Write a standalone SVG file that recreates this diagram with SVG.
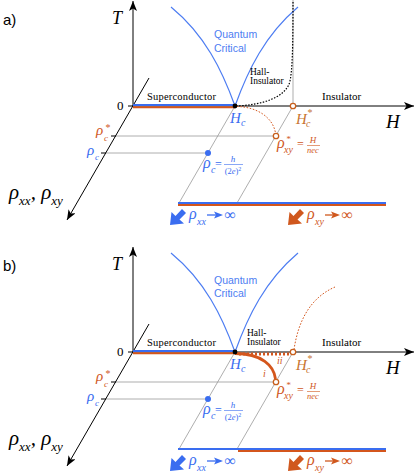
<svg xmlns="http://www.w3.org/2000/svg" width="415" height="475" viewBox="0 0 415 475">
<defs>
<marker id="ah" markerUnits="userSpaceOnUse" markerWidth="11" markerHeight="8" refX="10" refY="4" orient="auto"><path d="M0,0 L10,4 L0,8 L2.5,4 Z" fill="#000"/></marker>
<path id="heavy" d="M0,0 L1.5,-13 L5.5,-9 L12,-16 L16,-12 L9.5,-5.5 L14,-1.5 Z"/>
</defs>
<style>
.ax{stroke:#000;stroke-width:1;fill:none}
.tk{stroke:#000;stroke-width:1;fill:none}
.gr{stroke:#999;stroke-width:0.8;fill:none}
.lg{stroke:#d6d6d6;stroke-width:2;fill:none}
.bl{stroke:#3a6df0;stroke-width:2;fill:none}
.rd{stroke:#d4561c;stroke-width:2;fill:none}
.qc{stroke:#4d7df2;stroke-width:1.2;fill:none}
.dk{stroke:#000;stroke-width:1.2;fill:none;stroke-dasharray:1.5 1.5}
.od{stroke:#d4561c;stroke-width:1;fill:none;stroke-dasharray:1.6 1.6}
.ring{stroke:#c8601e;stroke-width:1.3;fill:#fff}
.sr{font-family:"Liberation Serif",serif}
.it{font-family:"Liberation Serif",serif;font-style:italic}
.sans{font-family:"Liberation Sans",sans-serif}
.cb{fill:#3a6df0}
.co{fill:#d0581e}
.ch{fill:#c87430}
</style>

<!-- ===================== PANEL A ===================== -->
<g id="panel-a">
<text id="a-label" class="sans" x="3" y="25" font-size="15">a)</text>

<g id="a-guides">
<line class="gr" x1="115" y1="136" x2="274" y2="136"/>
<line class="gr" x1="106" y1="153" x2="206" y2="153"/>
<line class="gr" x1="235" y1="106" x2="179" y2="203"/>
<line class="gr" x1="293" y1="106" x2="237" y2="203"/>
<line class="lg" x1="293" y1="0" x2="293" y2="103"/>
</g>

<g id="a-connectors">
<line class="ax" x1="133" y1="106" x2="133" y2="1" marker-end="url(#ah)"/>
<line class="ax" x1="133" y1="106" x2="414" y2="106" marker-end="url(#ah)"/>
<line class="ax" x1="149" y1="78" x2="67" y2="220" marker-end="url(#ah)"/>
<line class="tk" x1="128" y1="106" x2="133" y2="106"/>
<line class="tk" x1="111" y1="136" x2="116" y2="136"/>
<line class="tk" x1="101" y1="153" x2="106" y2="153"/>
<path class="qc" d="M235,106 C222,70 205,35 171,7"/>
<path class="qc" d="M235,106 C248,70 265,35 298,7"/>
<path class="dk" d="M236,106 C262,105 284,98 289.5,83 C292.5,72 293,45 293,2"/>
<path class="od" d="M237,106.5 C258,107 273,118 275.5,133"/>
<line class="bl" x1="133" y1="105" x2="235" y2="105"/>
<line class="rd" x1="133" y1="107.3" x2="235" y2="107.3"/>
<line class="bl" x1="178" y1="203" x2="386" y2="203"/>
<line class="rd" x1="178" y1="205" x2="386" y2="205"/>
</g>

<g id="a-axis-labels">
<text class="it" x="112" y="24" font-size="18">T</text>
<text class="it" x="386" y="128" font-size="19">H</text>
<text class="sr" x="117" y="110" font-size="13">0</text>
<text class="it" x="9" y="199" font-size="21">ρ<tspan font-size="13" dy="6">xx</tspan><tspan font-size="21" dy="-6">, ρ</tspan><tspan font-size="13" dy="6">xy</tspan></text>
</g>

<g id="a-rhoc-star-tick"><text class="it co" x="96" y="135" font-size="15">ρ</text><text class="it co" x="104" y="141" font-size="9">c</text><text class="it co" x="105" y="131" font-size="10">*</text></g>
<g id="a-rhoc-tick"><text class="it cb" x="87" y="155" font-size="15">ρ</text><text class="it cb" x="95" y="160" font-size="9">c</text></g>

<g id="a-superconductor"><text class="sr" x="147" y="100" font-size="10.5" textLength="69">Superconductor</text></g>
<g id="a-insulator"><text class="sr" x="322" y="100" font-size="11">Insulator</text></g>
<g id="a-quantum-critical"><text class="sans" x="214" y="38" font-size="10.5" fill="#4d7df2">Quantum</text><text class="sans" x="214" y="52" font-size="10.5" fill="#4d7df2">Critical</text></g>
<g id="a-hall-insulator"><text class="sr" x="250" y="75" font-size="9.5">Hall-</text><text class="sr" x="250" y="84" font-size="9.5">Insulator</text></g>

<g id="a-Hc"><circle cx="235" cy="106" r="2.4" fill="#000"/><text class="it cb" x="230" y="123" font-size="15">H</text><text class="it cb" x="241" y="126" font-size="10">c</text></g>
<g id="a-Hc-star"><circle class="ring" cx="293" cy="106" r="2.7"/><text class="it ch" x="296" y="123.5" font-size="15">H</text><text class="it ch" x="306" y="127" font-size="10">c</text><text class="it ch" x="307" y="116" font-size="10">*</text></g>
<g id="a-rhoc-point"><circle cx="208" cy="153" r="3" class="cb"/>
<text class="it cb" x="203" y="168" font-size="16">ρ</text><text class="it cb" x="211" y="173" font-size="10">c</text><text class="sr cb" x="215" y="168" font-size="12">=</text>
<text class="it cb" x="233" y="162" font-size="9" text-anchor="middle">h</text><line x1="224" y1="164.5" x2="243" y2="164.5" stroke="#3a6df0" stroke-width="0.6"/><text class="sr cb" x="233" y="174" font-size="8.5" text-anchor="middle">(2<tspan font-style="italic">e</tspan>)<tspan font-size="6" dy="-3">2</tspan></text></g>
<g id="a-rhoxy-point"><circle class="ring" cx="276" cy="136" r="2.7"/>
<text class="it co" x="277" y="148" font-size="16">ρ</text><text class="it co" x="286" y="142" font-size="9">*</text><text class="it co" x="284" y="153" font-size="10">xy</text><text class="sr co" x="297" y="148" font-size="12">=</text>
<text class="it co" x="313" y="143" font-size="9" text-anchor="middle">H</text><line x1="307" y1="145.5" x2="320" y2="145.5" stroke="#d0581e" stroke-width="0.6"/><text class="it co" x="313" y="153" font-size="8.5" text-anchor="middle">nec</text></g>

<g id="a-rhoxx-inf"><use href="#heavy" x="170" y="225" class="cb"/><text class="it cb" x="189" y="219" font-size="16">ρ</text><text class="it cb" x="197" y="225" font-size="10">xx</text>
<line x1="207" y1="215" x2="218" y2="215" stroke="#3a6df0" stroke-width="1.3"/><path d="M223,215 L214,211.5 L216,215 L214,218.5 Z" class="cb"/><text class="sr cb" x="224.5" y="219.5" font-size="16">∞</text></g>
<g id="a-rhoxy-inf"><use href="#heavy" x="288" y="225" class="co"/><text class="it co" x="307" y="219" font-size="16">ρ</text><text class="it co" x="315" y="225" font-size="10">xy</text>
<line x1="325" y1="215" x2="335" y2="215" stroke="#d0581e" stroke-width="1.3"/><path d="M340,215 L331,211.5 L333,215 L331,218.5 Z" class="co"/><text class="sr co" x="341.5" y="219.5" font-size="16">∞</text></g>
</g>

<!-- ===================== PANEL B ===================== -->
<g id="panel-b" transform="translate(0,246)">
<text id="b-label" class="sans" x="3" y="25" font-size="15">b)</text>

<g id="b-guides">
<line class="lg" x1="115" y1="136" x2="274" y2="136"/>
<line class="gr" x1="106" y1="153" x2="206" y2="153"/>
<line class="gr" x1="235" y1="106" x2="179" y2="203"/>
<line class="gr" x1="293" y1="106" x2="237" y2="203"/>
</g>

<g id="b-connectors">
<line class="ax" x1="133" y1="106" x2="133" y2="1" marker-end="url(#ah)"/>
<line class="ax" x1="133" y1="106" x2="414" y2="106" marker-end="url(#ah)"/>
<line class="ax" x1="149" y1="78" x2="67" y2="220" marker-end="url(#ah)"/>
<line class="tk" x1="128" y1="106" x2="133" y2="106"/>
<line class="tk" x1="111" y1="136" x2="116" y2="136"/>
<line class="tk" x1="101" y1="153" x2="106" y2="153"/>
<path class="qc" d="M235,106 C222,70 205,35 171,7"/>
<path class="qc" d="M235,106 C248,70 265,35 298,7"/>
<path class="od" d="M294,103.5 C297,84 305,54 335,41"/>
<line x1="239" y1="108" x2="291" y2="108" stroke="#d4561c" stroke-width="3" stroke-dasharray="2 2"/>
<path d="M235,107.5 C262,107.5 274,120 275.5,133" fill="none" stroke="#d4561c" stroke-width="2.8"/>
<line class="bl" x1="133" y1="105" x2="235" y2="105"/>
<line class="rd" x1="133" y1="107.3" x2="235" y2="107.3"/>
<line class="bl" x1="178" y1="203" x2="386" y2="203"/>
<line class="rd" x1="238" y1="205" x2="386" y2="205"/>
</g>

<g id="b-axis-labels">
<text class="it" x="112" y="24" font-size="18">T</text>
<text class="it" x="386" y="128" font-size="19">H</text>
<text class="sr" x="117" y="110" font-size="13">0</text>
<text class="it" x="9" y="199" font-size="21">ρ<tspan font-size="13" dy="6">xx</tspan><tspan font-size="21" dy="-6">, ρ</tspan><tspan font-size="13" dy="6">xy</tspan></text>
</g>

<g id="b-rhoc-star-tick"><text class="it co" x="96" y="135" font-size="15">ρ</text><text class="it co" x="104" y="141" font-size="9">c</text><text class="it co" x="105" y="131" font-size="10">*</text></g>
<g id="b-rhoc-tick"><text class="it cb" x="87" y="155" font-size="15">ρ</text><text class="it cb" x="95" y="160" font-size="9">c</text></g>

<g id="b-superconductor"><text class="sr" x="147" y="100" font-size="10.5" textLength="69">Superconductor</text></g>
<g id="b-insulator"><text class="sr" x="322" y="100" font-size="11">Insulator</text></g>
<g id="b-quantum-critical"><text class="sans" x="214" y="38" font-size="10.5" fill="#4d7df2">Quantum</text><text class="sans" x="214" y="51" font-size="10.5" fill="#4d7df2">Critical</text></g>
<g id="b-hall-insulator"><text class="sr" x="247" y="90" font-size="9.5">Hall-</text><text class="sr" x="247" y="99" font-size="9.5">Insulator</text></g>
<g id="b-branch-labels"><text class="it co" x="277" y="118" font-size="10">ii</text><text class="it co" x="263" y="131" font-size="10">i</text></g>

<g id="b-Hc"><circle cx="235" cy="106" r="2.4" fill="#000"/><text class="it cb" x="230" y="123" font-size="15">H</text><text class="it cb" x="241" y="126" font-size="10">c</text></g>
<g id="b-Hc-star"><circle class="ring" cx="293" cy="106" r="2.7"/><text class="it ch" x="296" y="123.5" font-size="15">H</text><text class="it ch" x="306" y="127" font-size="10">c</text><text class="it ch" x="307" y="116" font-size="10">*</text></g>
<g id="b-rhoc-point"><circle cx="208" cy="153" r="3" class="cb"/>
<text class="it cb" x="203" y="168" font-size="16">ρ</text><text class="it cb" x="211" y="173" font-size="10">c</text><text class="sr cb" x="215" y="168" font-size="12">=</text>
<text class="it cb" x="233" y="162" font-size="9" text-anchor="middle">h</text><line x1="224" y1="164.5" x2="243" y2="164.5" stroke="#3a6df0" stroke-width="0.6"/><text class="sr cb" x="233" y="174" font-size="8.5" text-anchor="middle">(2<tspan font-style="italic">e</tspan>)<tspan font-size="6" dy="-3">2</tspan></text></g>
<g id="b-rhoxy-point"><circle class="ring" cx="276" cy="136" r="2.7"/>
<text class="it co" x="277" y="148" font-size="16">ρ</text><text class="it co" x="286" y="142" font-size="9">*</text><text class="it co" x="284" y="153" font-size="10">xy</text><text class="sr co" x="297" y="148" font-size="12">=</text>
<text class="it co" x="313" y="143" font-size="9" text-anchor="middle">H</text><line x1="307" y1="145.5" x2="320" y2="145.5" stroke="#d0581e" stroke-width="0.6"/><text class="it co" x="313" y="153" font-size="8.5" text-anchor="middle">nec</text></g>

<g id="b-rhoxx-inf"><use href="#heavy" x="170" y="225" class="cb"/><text class="it cb" x="189" y="219" font-size="16">ρ</text><text class="it cb" x="197" y="225" font-size="10">xx</text>
<line x1="207" y1="215" x2="218" y2="215" stroke="#3a6df0" stroke-width="1.3"/><path d="M223,215 L214,211.5 L216,215 L214,218.5 Z" class="cb"/><text class="sr cb" x="224.5" y="219.5" font-size="16">∞</text></g>
<g id="b-rhoxy-inf"><use href="#heavy" x="288" y="225" class="co"/><text class="it co" x="307" y="219" font-size="16">ρ</text><text class="it co" x="315" y="225" font-size="10">xy</text>
<line x1="325" y1="215" x2="335" y2="215" stroke="#d0581e" stroke-width="1.3"/><path d="M340,215 L331,211.5 L333,215 L331,218.5 Z" class="co"/><text class="sr co" x="341.5" y="219.5" font-size="16">∞</text></g>
</g>
</svg>
